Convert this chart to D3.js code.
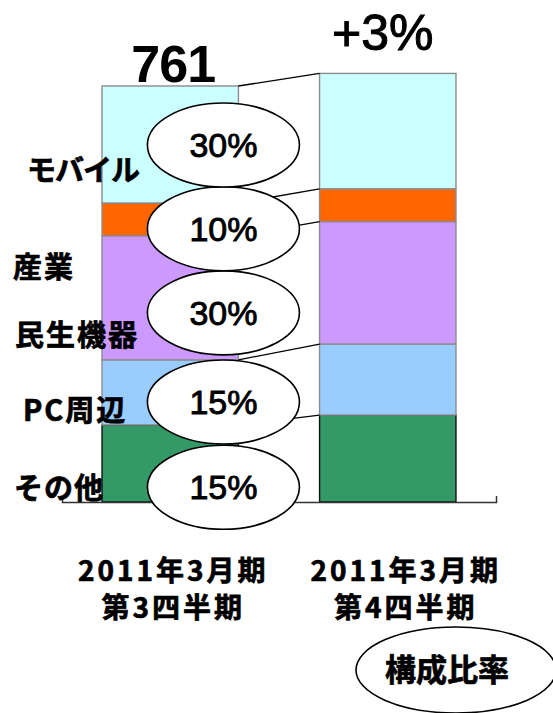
<!DOCTYPE html>
<html>
<head>
<meta charset="utf-8">
<title>構成比率</title>
<script src="https://d3js.org/d3.v7.min.js"></script>
<style>
  body { margin: 0; background: #fff; }
  .side, .period, .badge { font-family: "Noto Sans CJK JP", sans-serif; font-weight: bold; stroke: #000; stroke-width: 0.7px; }
  .side { font-size: 29px; }
  .period { font-size: 28px; letter-spacing: 3px; }
  .badge { font-size: 31px; }
  .share { font-family: "Liberation Sans", Arial, sans-serif; font-size: 34px; stroke: #000; stroke-width: 0.9px; }
  .total { font-family: "Liberation Sans", Arial, sans-serif; }
</style>
</head>
<body>
<svg width="553" height="713"></svg>
<script>
const periods = [["2011年3月期", "第3四半期"], ["2011年3月期", "第4四半期"]]
const segments = ["その他", "PC周辺", "民生機器", "産業", "モバイル"]
const q3 = [141, 119, 227, 60, 214]
const q4 = [159, 130, 224, 60, 211]
const shares = ["15%", "15%", "30%", "10%", "30%"]
const totals = ["761", "+3%"]
// callouts and side labels are placed in value units (bottom to top)
const shareAt = [27, 183, 346, 500, 653]
const labelAt = [5, 148, 285, 410, 587]

const colors = ["#339966", "#99CCFF", "#CC99FF", "#FF6600", "#CCFFFF"]
const labelX = [14, 23, 15, 13, 27]
const labelSpacing = [1, 2, 2, 2, -1]

const svg = d3.select("svg")

const rows = [q3, q4].map((vals, i) => {
    const r = { idx: i }
    segments.forEach((s, j) => r[s] = vals[j])
    return r
})
const series = d3.stack().keys(segments)(rows)

const x = d3.scaleBand()
    .domain([0, 1])
    .range([62, 496])
    .paddingInner(0.373)
    .paddingOuter(0.184)
const bw = x.bandwidth()

const y = d3.scaleLinear()
    .domain([0, 761])
    .range([502, 86])

// stacked bars
svg.append("g").selectAll("g")
    .data(series)
    .join("g")
    .attr("fill", (d, i) => colors[i])
    .attr("stroke", (d, i) => i === 0 ? "#111" : "#8c8c8c")
    .attr("stroke-width", 1.4)
    .selectAll("rect")
    .data(d => d)
    .join("rect")
    .attr("x", d => x(d.data.idx))
    .attr("y", d => y(d[1]))
    .attr("width", bw)
    .attr("height", d => y(d[0]) - y(d[1]))

// connector lines between the bars
svg.append("g").selectAll("line")
    .data(series)
    .join("line")
    .attr("x1", x(0) + bw)
    .attr("x2", x(1))
    .attr("y1", d => y(d[0][1]))
    .attr("y2", d => y(d[1][1]))
    .attr("stroke", "#000")
    .attr("stroke-width", 1.3)

// axis line
const axis = svg.append("g")
    .attr("transform", `translate(0,${y(0)})`)
    .call(d3.axisBottom(x).tickSize(0).tickSizeOuter(-6).tickFormat(""))
axis.select(".domain").attr("stroke", "#333").attr("stroke-width", 1.5)

// share callouts
const cx = x(0) + bw * 0.89
const callouts = svg.append("g").selectAll("g")
    .data(shares)
    .join("g")
    .attr("transform", (d, i) => `translate(${cx},${y(shareAt[i])})`)
callouts.append("ellipse")
    .attr("rx", 76)
    .attr("ry", 42)
    .attr("fill", "#fff")
    .attr("stroke", "#000")
    .attr("stroke-width", 1.6)
callouts.append("text")
    .attr("class", "share")
    .attr("text-anchor", "middle")
    .attr("dy", "0.36em")
    .text(d => d)

// side labels
svg.append("g").selectAll("text")
    .data(segments)
    .join("text")
    .attr("class", "side")
    .attr("x", (d, i) => labelX[i])
    .attr("y", (d, i) => y(labelAt[i]))
    .style("letter-spacing", (d, i) => labelSpacing[i] + "px")
    .text(d => d)

// totals above the bars
svg.append("text")
    .attr("class", "total")
    .attr("x", x(0) + bw / 2 + 3)
    .attr("y", y(761) - 4)
    .attr("text-anchor", "middle")
    .attr("font-size", 52)
    .attr("font-weight", "bold")
    .attr("letter-spacing", -1)
    .text(totals[0])
svg.append("text")
    .attr("class", "total")
    .attr("x", x(1) + bw / 2 - 5)
    .attr("y", y(d3.sum(q4)) - 23)
    .attr("text-anchor", "middle")
    .attr("font-size", 50)
    .attr("stroke", "#000")
    .attr("stroke-width", 1)
    .text(totals[1])

// period labels
const shift = [3, 18]
const pl = svg.append("g").selectAll("text")
    .data(periods)
    .join("text")
    .attr("class", "period")
    .attr("text-anchor", "middle")
    .attr("x", (d, i) => x(i) + bw / 2 + shift[i])
    .attr("y", 581)
pl.selectAll("tspan")
    .data((d, i) => d.map(t => ({ t, i })))
    .join("tspan")
    .attr("x", d => x(d.i) + bw / 2 + shift[d.i])
    .attr("dy", (d, j) => j ? 37 : 0)
    .text(d => d.t)

// badge
const badge = svg.append("g").attr("transform", "translate(456,670)")
badge.append("ellipse")
    .attr("rx", 100)
    .attr("ry", 43)
    .attr("fill", "#fff")
    .attr("stroke", "#000")
    .attr("stroke-width", 1.6)
badge.append("text")
    .attr("class", "badge")
    .attr("x", -9)
    .attr("y", 11)
    .attr("text-anchor", "middle")
    .text("構成比率")
</script>
</body>
</html>
